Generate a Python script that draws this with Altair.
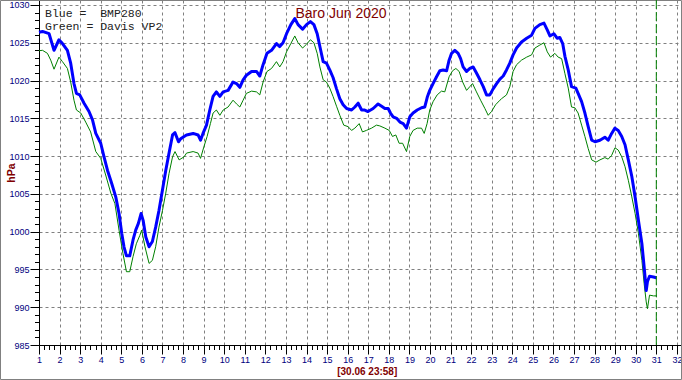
import altair as alt
import pandas as pd

# ---- data ----
blue_day = [1.00, 1.17, 1.49, 1.73, 1.97, 2.14, 2.38, 2.54, 2.70, 2.82, 2.98, 3.19, 3.43, 3.60, 3.76,
            4.00, 4.16, 4.33, 4.53, 4.73, 4.89, 5.02, 5.13, 5.25, 5.41, 5.57, 5.70, 5.83, 5.96, 6.06,
            6.19, 6.35, 6.51, 6.67, 6.83, 7.00, 7.16, 7.32, 7.49, 7.61, 7.78, 7.89, 8.05, 8.17, 8.49,
            8.73, 8.85, 8.97, 9.14, 9.30, 9.46, 9.62, 9.79, 9.95, 10.19, 10.43, 10.60, 10.76, 10.92,
            11.08, 11.33, 11.57, 11.73, 11.89, 12.08, 12.30, 12.54, 12.70, 12.86, 13.03, 13.24, 13.43,
            13.59, 13.81, 14.00, 14.19, 14.36, 14.52, 14.65, 14.81, 14.97, 15.13, 15.29, 15.46, 15.62,
            15.78, 15.95, 16.19, 16.35, 16.51, 16.68, 16.83, 16.99, 17.24, 17.48, 17.65, 17.81, 17.97,
            18.08, 18.21, 18.38, 18.54, 18.70, 18.86, 19.02, 19.18, 19.38, 19.59, 19.75, 19.88, 19.99,
            20.15, 20.32, 20.48, 20.64, 20.81, 20.93, 21.05, 21.21, 21.37, 21.49, 21.61, 21.78, 21.94,
            22.10, 22.26, 22.43, 22.59, 22.75, 22.91, 23.07, 23.24, 23.40, 23.56, 23.72, 23.88, 24.04,
            24.21, 24.45, 24.70, 24.94, 25.10, 25.34, 25.54, 25.70, 25.83, 26.02, 26.18, 26.31, 26.45,
            26.56, 26.72, 26.88, 27.09, 27.20, 27.37, 27.53, 27.69, 27.86, 28.02, 28.26, 28.50, 28.66,
            28.83, 28.99, 29.15, 29.32, 29.48, 29.64, 29.81, 29.97, 30.13, 30.30, 30.41, 30.51, 30.57,
            30.67, 30.86, 31.00]
blue_hpa = [1026.4, 1026.5, 1026.2, 1024.0, 1025.4, 1024.9, 1024.0, 1022.3, 1019.6, 1018.3, 1018.1,
            1017.0, 1015.9, 1014.8, 1013.0, 1011.7, 1009.9, 1008.1, 1006.4, 1004.6, 1002.4, 999.8,
            998.0, 996.8, 996.8, 998.9, 1000.2, 1001.1, 1002.4, 1001.5, 999.3, 998.0, 998.7, 1000.6,
            1002.8, 1005.5, 1008.1, 1010.4, 1012.8, 1013.1, 1011.9, 1012.3, 1012.6, 1012.8, 1013.0,
            1012.8, 1012.1, 1013.0, 1014.1, 1016.1, 1017.9, 1018.5, 1017.9, 1018.5, 1018.7, 1019.8,
            1019.6, 1019.1, 1020.1, 1020.7, 1021.2, 1021.2, 1020.6, 1022.1, 1023.6, 1024.0, 1024.9,
            1024.5, 1025.0, 1026.2, 1027.4, 1028.2, 1027.4, 1026.8, 1027.4, 1027.8, 1027.4, 1026.2,
            1024.5, 1022.5, 1022.3, 1021.4, 1020.4, 1018.9, 1017.6, 1016.8, 1016.3, 1016.1, 1016.5,
            1017.0, 1016.1, 1016.1, 1015.9, 1016.3, 1016.9, 1016.6, 1016.3, 1016.3, 1015.7, 1015.2,
            1015.0, 1014.5, 1014.3, 1013.7, 1015.2, 1015.7, 1016.1, 1016.4, 1016.5, 1017.9, 1018.7,
            1019.6, 1020.5, 1021.3, 1021.4, 1021.3, 1022.7, 1023.6, 1024.0, 1023.6, 1022.9, 1021.8,
            1021.2, 1021.6, 1021.8, 1021.0, 1020.1, 1019.2, 1018.1, 1018.1, 1018.9, 1019.6, 1020.2,
            1020.6, 1021.4, 1022.3, 1023.4, 1024.3, 1025.1, 1025.6, 1026.0, 1026.9, 1027.4, 1027.6,
            1026.7, 1025.9, 1026.2, 1025.6, 1025.7, 1024.9, 1023.2, 1021.4, 1019.2, 1019.0, 1018.3,
            1017.2, 1015.7, 1013.9, 1012.1, 1011.9, 1012.1, 1012.5, 1012.1, 1013.0, 1013.7, 1013.4,
            1012.6, 1011.5, 1009.5, 1007.3, 1004.6, 1001.5, 998.4, 995.3, 992.2, 993.4, 994.1, 994.0,
            993.9]

green_day = [1.00, 1.17, 1.41, 1.57, 1.73, 1.97, 2.14, 2.38, 2.54, 2.70, 2.82, 3.03, 3.27, 3.51, 3.76,
             4.00, 4.24, 4.49, 4.69, 4.89, 5.08, 5.25, 5.41, 5.57, 5.73, 5.90, 5.99, 6.15, 6.35, 6.51,
             6.67, 6.83, 7.00, 7.16, 7.32, 7.49, 7.61, 7.81, 8.05, 8.17, 8.49, 8.73, 8.85, 9.01, 9.17,
             9.33, 9.46, 9.62, 9.79, 9.95, 10.19, 10.43, 10.60, 10.76, 10.92, 11.08, 11.33, 11.57,
             11.73, 11.89, 12.08, 12.30, 12.54, 12.70, 12.86, 13.03, 13.24, 13.43, 13.59, 13.81, 14.00,
             14.19, 14.36, 14.52, 14.65, 14.81, 14.97, 15.13, 15.29, 15.46, 15.62, 15.81, 16.02, 16.19,
             16.35, 16.56, 16.72, 16.91, 17.16, 17.40, 17.56, 17.81, 18.02, 18.18, 18.34, 18.50, 18.67,
             18.86, 19.02, 19.18, 19.38, 19.59, 19.72, 19.86, 19.99, 20.15, 20.35, 20.56, 20.72, 20.93,
             21.10, 21.26, 21.42, 21.59, 21.78, 21.94, 22.07, 22.26, 22.46, 22.67, 22.83, 22.99, 23.19,
             23.40, 23.48, 23.72, 23.88, 24.04, 24.21, 24.45, 24.70, 24.94, 25.10, 25.34, 25.54, 25.70,
             25.86, 26.07, 26.23, 26.40, 26.56, 26.72, 26.88, 27.04, 27.20, 27.37, 27.53, 27.69, 27.86,
             28.07, 28.26, 28.50, 28.66, 28.83, 28.99, 29.15, 29.32, 29.48, 29.64, 29.81, 29.97, 30.13,
             30.30, 30.41, 30.51, 30.57, 30.67, 30.86, 31.00]
green_hpa = [1023.95, 1024.0, 1023.6, 1022.7, 1021.5, 1023.1, 1022.5, 1021.6, 1019.8, 1017.4, 1016.1,
             1015.7, 1014.5, 1013.2, 1010.6, 1009.7, 1007.5, 1005.1, 1003.7, 1000.2, 997.1, 994.7,
             994.7, 996.7, 998.4, 999.5, 1000.2, 998.0, 995.8, 996.2, 998.0, 1000.6, 1002.8, 1005.1,
             1007.7, 1009.9, 1010.6, 1009.5, 1009.9, 1010.4, 1010.6, 1010.4, 1009.7, 1011.2, 1012.6,
             1014.3, 1015.7, 1016.1, 1015.4, 1016.1, 1016.5, 1017.4, 1016.9, 1016.5, 1017.4, 1018.3,
             1018.6, 1018.5, 1018.1, 1019.8, 1021.2, 1021.6, 1022.5, 1021.8, 1022.5, 1023.8, 1024.9,
             1025.9, 1025.0, 1024.3, 1024.8, 1025.4, 1025.0, 1023.6, 1021.8, 1020.1, 1019.8, 1019.0,
             1017.9, 1016.6, 1015.4, 1014.1, 1013.9, 1013.4, 1013.7, 1014.3, 1013.2, 1013.4, 1013.7,
             1014.1, 1014.0, 1013.7, 1013.4, 1012.6, 1012.8, 1011.7, 1011.7, 1010.6, 1012.6, 1013.4,
             1013.7, 1013.7, 1013.0, 1014.3, 1016.1, 1017.2, 1018.1, 1018.6, 1018.5, 1020.5, 1021.3,
             1021.6, 1021.2, 1019.8, 1018.7, 1019.2, 1019.6, 1018.5, 1017.4, 1016.3, 1015.4, 1015.9,
             1016.8, 1017.4, 1017.6, 1018.1, 1019.2, 1021.2, 1022.1, 1022.7, 1023.1, 1023.4, 1024.3,
             1024.7, 1025.0, 1023.8, 1023.1, 1023.6, 1023.1, 1022.9, 1020.9, 1019.0, 1016.5, 1016.4,
             1015.7, 1014.1, 1012.6, 1011.0, 1009.5, 1009.2, 1009.5, 1009.8, 1009.6, 1010.1, 1011.1,
             1010.8, 1009.9, 1008.6, 1006.8, 1004.6, 1002.4, 999.8, 996.2, 993.1, 990.7, 989.8, 991.6,
             991.5, 991.5]

x_ticks = list(range(1, 33))
x_minor = [d + q for d in range(1, 32) for q in (0.25, 0.5, 0.75)]
y_ticks = [985, 990, 995, 1000, 1005, 1010, 1015, 1020, 1025, 1030]
y_minor = [v for v in range(985, 1031) if v % 5 != 0]
marker_day = [31]

title_text = "Baro Jun 2020"
legend_lines = ["Blue =\u00a0\u00a0BMP280", "Green = Davis VP2"]
x_title = "[30.06 23:58]"
y_title = "hPa"

# ---- styling ----
NAVY = "#000080"
DARKRED = "#800000"
FONT = "Liberation Sans"
W, H = 642, 345

xscale = alt.Scale(domain=[1, 32.2], nice=False, zero=False)
yscale = alt.Scale(domain=[985, 1030.66], nice=False, zero=False)

blue_df = pd.DataFrame({"day": blue_day, "hpa": blue_hpa})
green_df = pd.DataFrame({"day": green_day, "hpa": green_hpa})
marker_df = pd.DataFrame({"day": marker_day})

x_major = alt.Axis(values=x_ticks, orient="bottom", format="d", tickSize=9, tickColor="black",
                   domainColor="black", labelColor=NAVY, labelFont=FONT, labelFontSize=9,
                   labelPadding=1, labelFlush=False, labelOverlap=False,
                   grid=True, gridColor="#808080", gridDash=[3, 3], gridWidth=1,
                   title=x_title, titleColor=DARKRED, titleFont="Liberation Sans Narrow, Liberation Sans",
                   titleFontSize=10, titleFontWeight="bold", titleX=327.7, titleY=29,
                   titleBaseline="alphabetic", titleAlign="center")
y_major = alt.Axis(values=y_ticks, orient="left", format="d", tickSize=9, tickColor="black",
                   domainColor="black", labelColor=NAVY, labelFont=FONT, labelFontSize=9,
                   labelPadding=1, labelFlush=False, labelOverlap=False,
                   grid=True, gridColor="#808080", gridDash=[3, 3], gridWidth=1,
                   title=y_title, titleColor=DARKRED, titleFont=FONT, titleFontSize=10.5,
                   titleFontWeight="bold", titleAngle=270, titleX=-28, titleY=172.5,
                   titleAlign="center", titleBaseline="middle")
x_min_axis = alt.Axis(values=x_minor, orient="bottom", tickSize=4.5, tickColor="black",
                      labels=False, grid=False, domain=False, title="")
y_min_axis = alt.Axis(values=y_minor, orient="left", tickSize=4.5, tickColor="black",
                      labels=False, grid=False, domain=False, title="")

frame = alt.Chart(marker_df).mark_rect(fillOpacity=0, stroke="#808080", strokeWidth=1).encode(
    x=alt.value(-38.5), x2=alt.value(W + 0.5), y=alt.value(0.5), y2=alt.value(379.5))

green = alt.Chart(green_df).mark_line(color="#008000", strokeWidth=1).encode(
    x=alt.X("day:Q", scale=xscale, axis=x_min_axis),
    y=alt.Y("hpa:Q", scale=yscale, axis=y_min_axis))

blue = alt.Chart(blue_df).mark_line(color="#0000ff", strokeWidth=3, strokeJoin="round").encode(
    x=alt.X("day:Q", scale=xscale, axis=x_major),
    y=alt.Y("hpa:Q", scale=yscale, axis=y_major))

marker = alt.Chart(marker_df).mark_rule(color="#008000", strokeDash=[9, 3], strokeWidth=1).encode(
    x=alt.X("day:Q", scale=xscale, axis=None))

title = alt.Chart(marker_df).mark_text(text=title_text, font=FONT, fontSize=14, color=DARKRED,
                                       align="center", baseline="alphabetic").encode(
    x=alt.value(302), y=alt.value(17.5))
leg1 = alt.Chart(marker_df).mark_text(text=legend_lines[0], font="Liberation Mono", fontSize=11.5,
                                      color="#222222", align="left", baseline="alphabetic").encode(
    x=alt.value(6), y=alt.value(16.5))
leg2 = alt.Chart(marker_df).mark_text(text=legend_lines[1], font="Liberation Mono", fontSize=11.5,
                                      color="#222222", align="left", baseline="alphabetic").encode(
    x=alt.value(6), y=alt.value(29.5))

chart = alt.layer(frame, green, blue, marker, title, leg1, leg2).resolve_axis(
    x="independent", y="independent"
).properties(
    width=W, height=H,
    autosize=alt.AutoSizeParams(type="none"),
    padding={"left": 39, "top": 0, "right": 1, "bottom": 35},
    background="white",
).configure_view(stroke="transparent")

chart.save("out.html", embed_options={"renderer": "svg", "actions": False})
